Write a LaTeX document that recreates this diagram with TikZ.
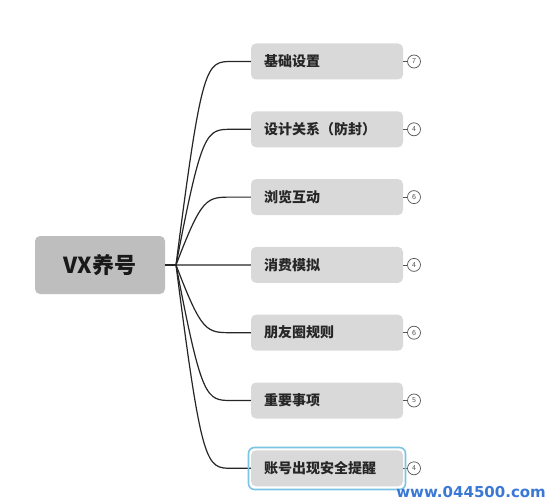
\documentclass[tikz,border=0pt]{standalone}
\usepackage{fontspec}
\newfontfamily\cjk{Noto Sans CJK SC}
\newfontfamily\wmfont{DejaVu Sans}
\definecolor{childgray}{HTML}{D9D9D9}
\definecolor{rootgray}{HTML}{BEBEBE}
\definecolor{selblue}{HTML}{7CC4E4}
\definecolor{wmblue}{HTML}{3A78D6}
\definecolor{badgegray}{HTML}{555555}
\tikzset{
  rootbox/.style={fill=rootgray, rounded corners=5pt, minimum width=130pt, minimum height=58pt, inner sep=0pt,
    font=\cjk\fontsize{22}{24}\selectfont\bfseries, text=black!90},
  childbox/.style={fill=childgray, rounded corners=5pt, minimum width=152pt, minimum height=36pt, inner sep=0pt,
    text width=126pt, align=left, font=\cjk\fontsize{14}{16}\selectfont\bfseries, text=black!85},
  badge/.style={circle, draw=badgegray, line width=0.7pt, fill=white, minimum size=13pt, inner sep=0pt,
    font=\sffamily\fontsize{7.5}{7.5}\selectfont, text=badgegray},
  branch/.style={draw=black!85, line width=1.2pt},
  stub/.style={draw=badgegray, line width=0.7pt},
}
\begin{document}
\begin{tikzpicture}[x=1pt,y=-1pt]
\useasboundingbox (0,0) rectangle (551,500);
\fill[white] (0,0) rectangle (551,500);
\node[rootbox] (root) at (100,265) {VX养号};
\coordinate (j) at (176,265);
\draw[branch] (root.east) -- (j);
\foreach \i/\txt/\n in {1/基础设置/7, 2/设计关系（防封）/4, 3/浏览互动/6, 4/消费模拟/4, 5/朋友圈规则/6, 6/重要事项/5, 7/账号出现安全提醒/4}{
  \pgfmathsetmacro{\yy}{61.5+67.8*(\i-1)}
  \node[childbox] (c\i) at (327,\yy) {\txt};
  \node[badge] (b\i) at (414,\yy) {\n};
  \draw[stub] (c\i.east) -- (b\i.west);
  \coordinate (k\i) at (232,\yy);
  \draw[branch] (j) .. controls (202,\yy) and (206,\yy) .. (k\i) -- (c\i.west);
}
\draw[selblue, line width=1.6pt, rounded corners=6pt] (248.5,447.5) rectangle (405.5,489.5);
\node[anchor=base east, text=wmblue, font=\wmfont\bfseries\fontsize{15}{15}\selectfont, inner sep=0pt] (wm) at (546,497) {www.044500.com};
\end{tikzpicture}
\end{document}
